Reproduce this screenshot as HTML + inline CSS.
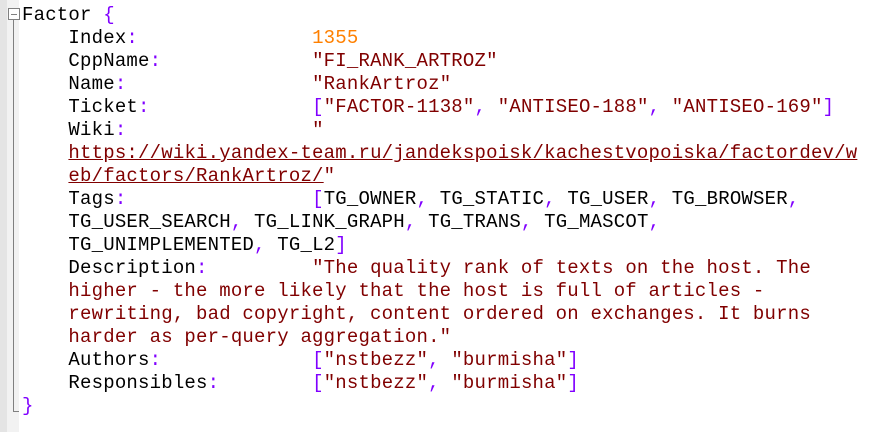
<!DOCTYPE html>
<html><head><meta charset="utf-8"><style>
html,body{margin:0;padding:0;background:#fff;width:893px;height:432px;overflow:hidden}
.g{position:absolute;left:0;top:0;width:7px;height:432px;background:#e4e4e4}
.g2{position:absolute;left:7px;top:0;width:12px;height:432px;background:#f2f2f2}
.fl{position:absolute;left:13px;top:20px;width:1px;height:392px;background:#808080}
.fb{position:absolute;left:8px;top:8px;width:10px;height:10px;border:1px solid #808080;background:#fff}
.fb:after{content:"";position:absolute;left:2px;top:5px;width:6px;height:1px;background:#808080}
.ft{position:absolute;left:13px;top:411px;width:6px;height:1px;background:#808080}
pre{position:absolute;left:22px;top:4px;margin:0;font-family:"Liberation Mono",monospace;font-size:19px;line-height:23px;letter-spacing:0.2px;color:#000}
.p{color:#8000ff}.s{color:#800000}.n{color:#ff8000}
.u{color:#800000;text-decoration:underline}
</style></head><body>
<div class="g"></div><div class="g2"></div><div class="fl"></div><div class="fb"></div><div class="ft"></div>
<pre>Factor <span class="p">{</span>
    Index<span class="p">:</span>               <span class="n">1355</span>
    CppName<span class="p">:</span>             <span class="s">"FI_RANK_ARTROZ"</span>
    Name<span class="p">:</span>                <span class="s">"RankArtroz"</span>
    Ticket<span class="p">:</span>              <span class="p">[</span><span class="s">"FACTOR-1138"</span><span class="p">,</span> <span class="s">"ANTISEO-188"</span><span class="p">,</span> <span class="s">"ANTISEO-169"</span><span class="p">]</span>
    Wiki<span class="p">:</span>                <span class="s">"</span>
    <span class="u">https://wiki.yandex-team.ru/jandekspoisk/kachestvopoiska/factordev/w</span>
    <span class="u">eb/factors/RankArtroz/</span><span class="s">"</span>
    Tags<span class="p">:</span>                <span class="p">[</span>TG_OWNER<span class="p">,</span> TG_STATIC<span class="p">,</span> TG_USER<span class="p">,</span> TG_BROWSER<span class="p">,</span>
    TG_USER_SEARCH<span class="p">,</span> TG_LINK_GRAPH<span class="p">,</span> TG_TRANS<span class="p">,</span> TG_MASCOT<span class="p">,</span>
    TG_UNIMPLEMENTED<span class="p">,</span> TG_L2<span class="p">]</span>
    Description<span class="p">:</span>         <span class="s">"The quality rank of texts on the host. The</span>
<span class="s">    higher - the more likely that the host is full of articles -</span>
<span class="s">    rewriting, bad copyright, content ordered on exchanges. It burns</span>
<span class="s">    harder as per-query aggregation."</span>
    Authors<span class="p">:</span>             <span class="p">[</span><span class="s">"nstbezz"</span><span class="p">,</span> <span class="s">"burmisha"</span><span class="p">]</span>
    Responsibles<span class="p">:</span>        <span class="p">[</span><span class="s">"nstbezz"</span><span class="p">,</span> <span class="s">"burmisha"</span><span class="p">]</span>
<span class="p">}</span></pre>
</body></html>
